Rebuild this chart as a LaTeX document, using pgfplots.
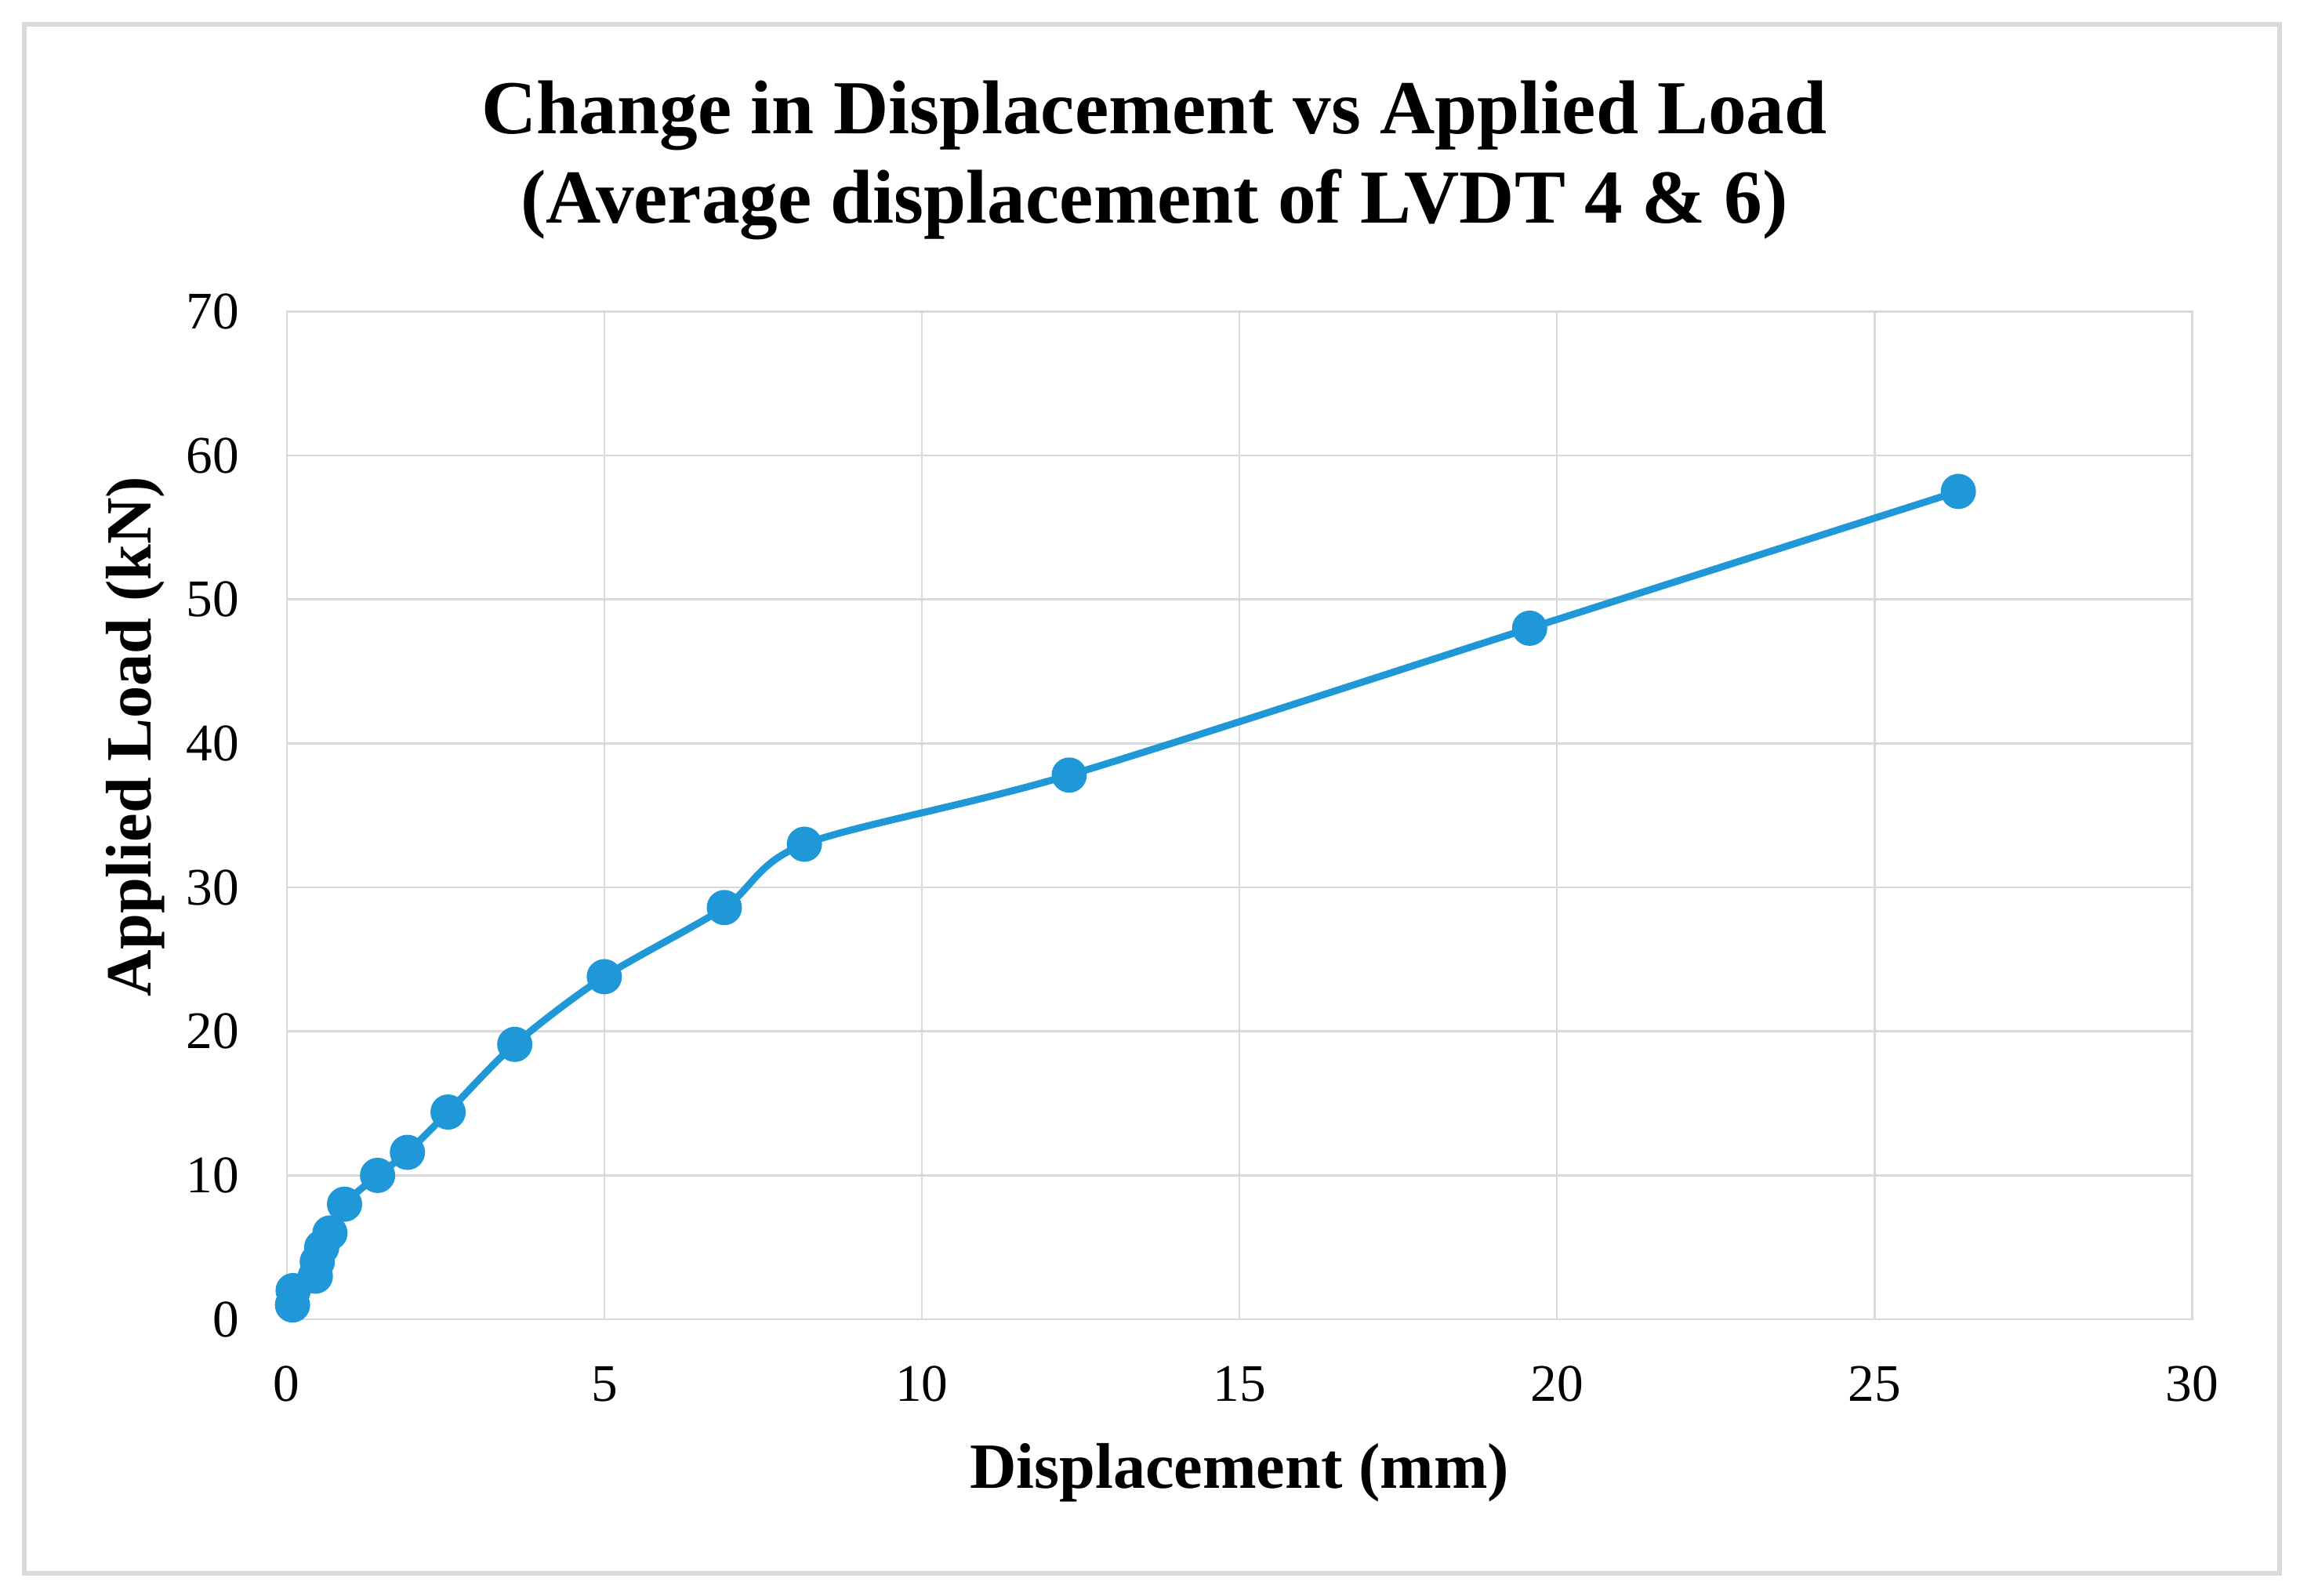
\documentclass[border=0pt]{standalone}
\usepackage{pgfplots}
\pgfplotsset{compat=1.18}
\usepackage{fontspec}
\setmainfont{Liberation Serif}

\definecolor{lineblue}{RGB}{32,152,216}
\definecolor{gridgray}{RGB}{217,217,217}

% load vs displacement
\pgfplotstableread{
disp  load
0.09  1.0
0.10  2.0
0.45  3.0
0.48  4.0
0.55  5.0
0.68  6.0
0.91  8.0
1.43  10.0
1.90  11.6
2.54  14.4
3.59  19.1
5.00  23.8
6.89  28.6
8.15  33.0
12.32 37.8
19.57 48.0
26.32 57.5
}\loaddata

\begin{document}
\begin{tikzpicture}
\useasboundingbox (-97.75pt,-94.25pt) rectangle (686.25pt,449.75pt);
\draw[gridgray, line width=1.6pt] (-89.5pt,-86.6pt) rectangle (679.25pt,441.5pt);
\begin{axis}[
  scale only axis,
  width=649.45pt, height=343.6pt,
  xmin=0, xmax=30, ymin=0, ymax=70,
  xtick={0,5,...,30}, ytick={0,10,...,70},
  grid=major,
  grid style={gridgray, line width=0.7pt},
  axis line style={gridgray, line width=0.7pt},
  major tick length=0pt,
  tick label style={font=\fontsize{18}{18}\selectfont, inner sep=0pt},
  /pgf/number format/assume math mode=true,
  xticklabel style={anchor=base, yshift=-28pt},
  yticklabel style={anchor=east, xshift=-16pt},
  clip=false,
]
\addplot[lineblue, line width=2.4pt, smooth, mark=*, mark size=4.8pt,
  mark options={fill=lineblue, draw=lineblue}] table[x=disp, y=load] {\loaddata};
\end{axis}
\node[anchor=base, font=\fontsize{26}{30}\selectfont\bfseries] at (295.75pt,404.25pt) {Change in Displacement vs Applied Load};
\node[anchor=base, font=\fontsize{26}{30}\selectfont\bfseries] at (295.75pt,373.75pt) {(Average displacement of LVDT 4 \& 6)};
\node[anchor=base, font=\fontsize{22}{26}\selectfont\bfseries] at (324.75pt,-57.5pt) {Displacement (mm)};
\node[anchor=base, rotate=90, font=\fontsize{22}{26}\selectfont\bfseries] at (-46.25pt,198.75pt) {Applied Load (kN)};
\end{tikzpicture}
\end{document}
